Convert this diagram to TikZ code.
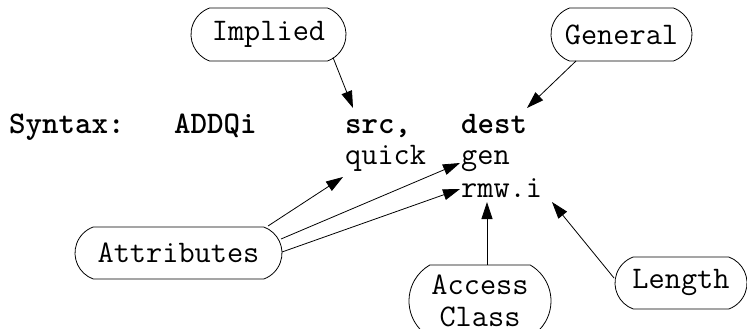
\documentclass[tikz,border=0pt]{standalone}
\usepackage{fontspec}
\usetikzlibrary{shapes.misc,arrows.meta}
\begin{document}
\begin{tikzpicture}[x=1pt,y=-1pt,
  lbl/.style={draw, line width=0.8pt, rounded rectangle, rounded rectangle arc length=140, inner sep=0pt, minimum height=53pt, font=\ttfamily\fontsize{31.4}{32}\selectfont},
  txt/.style={inner sep=0pt, anchor=base west, text height=20pt, text depth=6pt, font=\ttfamily\fontsize{31.4}{32}\selectfont},
  btxt/.style={txt, font=\ttfamily\bfseries\fontsize{31.4}{32}\selectfont},
  arr/.style={-{Triangle[length=17pt,width=11pt]}, line width=0.8pt}]
\useasboundingbox (0,0) rectangle (747,329);
% boxes
\node[lbl, minimum width=155pt] (impl) at (268.5,34.5) {Implied};
\node[lbl, minimum width=141pt] (genr) at (621.5,34.5) {General};
\node[lbl, minimum width=207pt, minimum height=52pt] (attr) at (178.5,253) {Attributes};
\node[lbl, rounded rectangle arc length=120, minimum width=142pt, minimum height=72pt, align=center] (acc) at (480,301) {Access\\Class};
\node[lbl, minimum width=132pt, minimum height=52pt] (len) at (681,283) {Length};
% syntax text
\node[btxt] (syn) at (9,133) {Syntax:};
\node[btxt] (addq) at (174,133) {ADDQi};
\node[btxt] (src) at (345,133) {src,};
\node[btxt] (dest) at (461,133) {dest};
\node[txt] (quick) at (345,164) {quick};
\node[txt] (gen) at (461,164) {gen};
\node[txt] (rmw) at (461,197) {rmw.i};
% arrows
\draw[arr] ([shift={(64.5,23)}]impl.center) -- ([shift={(8,-25)}]src.base west);
\draw[arr] ([shift={(-45.5,26.5)}]genr.center) -- ([shift={(66,-25)}]dest.base west);
\draw[arr] ([shift={(89.5,-27)}]attr.center) -- ([shift={(-2,13)}]quick.base west);
\draw[arr] ([shift={(102.5,-14)}]attr.center) -- ([shift={(-1,-1)}]gen.base west);
\draw[arr] ([shift={(103.5,-1)}]attr.center) -- ([shift={(-1,-8)}]rmw.base west);
\draw[arr] ([shift={(7,0)}]acc.north) -- ([shift={(26,5)}]rmw.base west);
\draw[arr] ([shift={(-67,-5)}]len.center) -- ([shift={(91,5)}]rmw.base west);
\end{tikzpicture}
\end{document}
